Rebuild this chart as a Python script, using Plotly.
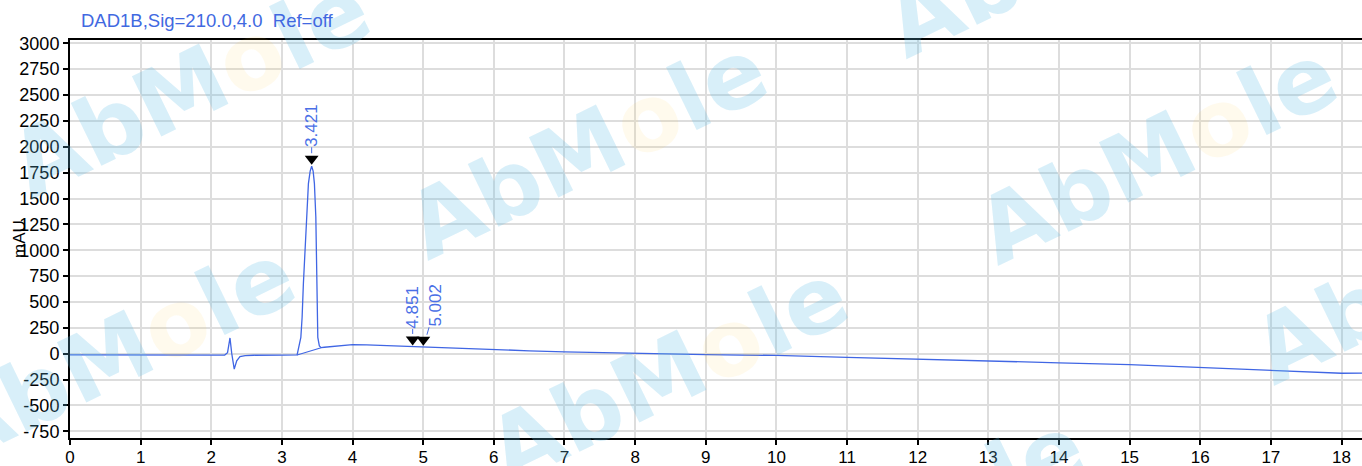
import plotly.graph_objects as go

# ---------------- data ----------------
time_min = [0.00, 0.50, 1.00, 1.50, 2.00, 2.19, 2.23, 2.265, 2.289, 2.325, 2.36, 2.406,
            2.48, 2.60, 3.00, 3.20, 3.215, 3.268, 3.286, 3.304, 3.324, 3.347, 3.375,
            3.400, 3.421, 3.442, 3.460, 3.480, 3.488, 3.498, 3.502, 3.508, 3.530, 3.555,
            3.60, 3.70, 3.80, 3.90, 4.00, 4.20, 4.50, 4.851, 5.002, 5.50, 6.00, 6.50,
            7.00, 7.50, 8.00, 8.50, 9.00, 9.50, 10.00, 11.00, 12.00, 13.00,
            14.00, 15.00, 16.00, 17.00, 17.50, 18.00, 18.29]
signal_mau = [-12, -12, -12, -12, -12, -13, 10, 152, 5, -149, -70, -29,
              -18, -15, -14, -13, -12, 158, 352, 678, 998, 1321, 1644,
              1765, 1812, 1765, 1644, 1321, 998, 678, 352, 158, 75, 58,
              62, 70, 79, 85, 88, 85, 77, 65, 62, 52, 40, 28,
              18, 10, 2, -5, -9, -13, -17, -35, -55, -72,
              -88, -105, -133, -164, -179, -189, -188]

baseline_t = [3.215, 3.555]
baseline_mau = [-12, 58]

peak_rt = [3.421, 4.851, 5.002]
peak_mau = [1812, 65, 62]
peak_labels = ["3.421", "4.851", "5.002"]

x_ticks = list(range(0, 19))
y_ticks = list(range(-750, 3001, 250))

title_text = "DAD1B,Sig=210.0,4.0\u00a0\u00a0Ref=off"
y_title = "mAU"

# ---------------- layout / style ----------------
W, H = 1362, 466
ML, MR, MT, MB = 70, 0, 40, 28
X_RANGE = [0, 18.29]
Y_RANGE = [-815, 3032]
PLOT_W = W - ML - MR
PLOT_H = H - MT - MB
units_per_px = (Y_RANGE[1] - Y_RANGE[0]) / PLOT_H

BLUE = "#4066e4"
LABEL_BLUE = "#4a6fe6"
GRID = "#dddddd"
FONT = "Liberation Sans, Arial, sans-serif"


def px_to_paper(px, py):
    return (px - ML) / PLOT_W, (H - MB - py) / PLOT_H


fig = go.Figure()

fig.add_trace(go.Scatter(x=time_min, y=signal_mau, mode="lines",
                         line=dict(color=BLUE, width=1.3), hoverinfo="skip"))
fig.add_trace(go.Scatter(x=baseline_t, y=baseline_mau, mode="lines",
                         line=dict(color=BLUE, width=1.1), hoverinfo="skip"))
fig.add_trace(go.Scatter(x=peak_rt, y=[v + 7.5 * units_per_px for v in peak_mau],
                         mode="markers",
                         marker=dict(symbol="triangle-down", size=12, color="black",
                                     line=dict(width=0)),
                         hoverinfo="skip"))

annotations = []

# watermarks (drawn first so labels sit above them)
wm_centers = [(190, 87), (587, 148), (1157, 153), (115, 353), (668, 373),
              (1433, 273), (1066, -53), (905, 525)]
wm_html = ('AbM<span style="color:rgba(255,200,50,0.34)">o</span>le')
for cx, cy in wm_centers:
    px_, py_ = px_to_paper(cx, cy)
    annotations.append(dict(x=px_, y=py_, xref="paper", yref="paper", text=wm_html,
                            textangle=-26, showarrow=False, xanchor="center",
                            yanchor="middle",
                            font=dict(family="DejaVu Sans, sans-serif", size=92,
                                      color="rgba(100,190,232,0.25)",
                                      weight="bold")))

# peak labels with leader lines
label_dx = [0, 0, 12]
label_dy = [-41, -40, -42]
for rt, v, lab, dx, dy in zip(peak_rt, peak_mau, peak_labels, label_dx, label_dy):
    annotations.append(dict(x=rt, y=v, xref="x", yref="y", text=lab, textangle=-90,
                            showarrow=True, arrowhead=0, arrowwidth=1,
                            arrowcolor=LABEL_BLUE, ax=dx, ay=dy, standoff=13,
                            font=dict(family=FONT, size=17, color=LABEL_BLUE),
                            borderpad=0))

# title
tx, ty = px_to_paper(79, 21)
annotations.append(dict(x=tx, y=ty, xref="paper", yref="paper", text=title_text,
                        showarrow=False, xanchor="left", yanchor="middle",
                        font=dict(family=FONT, size=18.5, color="#4169e1")))

# y axis title
mx, my = px_to_paper(19, 239)
annotations.append(dict(x=mx, y=my, xref="paper", yref="paper", text=y_title,
                        textangle=-90, showarrow=False, xanchor="center",
                        yanchor="middle",
                        font=dict(family=FONT, size=17, color="black")))

fig.update_layout(
    width=W, height=H,
    margin=dict(l=ML, r=MR, t=MT, b=MB, pad=0, autoexpand=False),
    paper_bgcolor="white", plot_bgcolor="white",
    showlegend=False, hovermode=False,
    annotations=annotations,
    font=dict(family=FONT, size=18, color="black"),
)
fig.update_xaxes(range=X_RANGE, tickvals=x_ticks, ticktext=[str(t) for t in x_ticks],
                 showgrid=True, gridcolor=GRID, gridwidth=1.5,
                 showline=True, linecolor="black", linewidth=2, mirror=True,
                 ticks="outside", ticklen=5, tickwidth=1.5, tickcolor="black",
                 ticklabelstandoff=-2,
                 tickfont=dict(family=FONT, size=17, color="black"),
                 zeroline=False, fixedrange=True, automargin=False)
fig.update_yaxes(range=Y_RANGE, tickvals=y_ticks, ticktext=[str(t) for t in y_ticks],
                 showgrid=True, gridcolor=GRID, gridwidth=1.5,
                 showline=True, linecolor="black", linewidth=2, mirror=False,
                 ticks="outside", ticklen=5, tickwidth=1.5, tickcolor="black",
                 tickfont=dict(family=FONT, size=18, color="black"),
                 zeroline=False, fixedrange=True, automargin=False)

fig.write_html("out.html", config={"displayModeBar": False})

# remove the browser's default page margin so the figure fills the window
with open("out.html", "r", encoding="utf-8") as f:
    html = f.read()
html = html.replace("<head>",
                    "<head><style>html,body{margin:0;padding:0;overflow:hidden;}</style>", 1)
with open("out.html", "w", encoding="utf-8") as f:
    f.write(html)
